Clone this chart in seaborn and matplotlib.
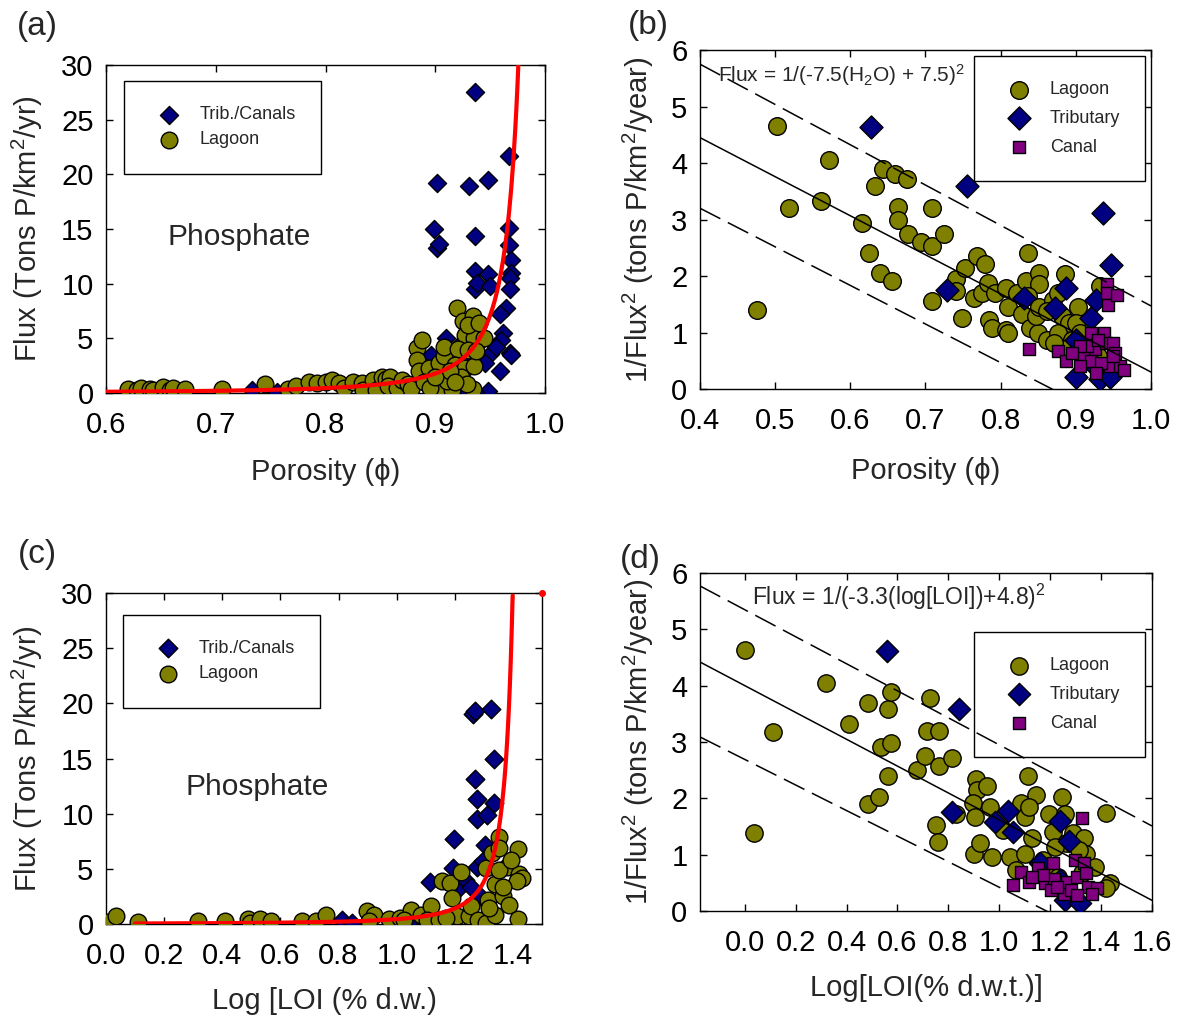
import numpy as np
import matplotlib
matplotlib.use("Agg")
import matplotlib.pyplot as plt
import seaborn as sns

# ---- panel (a): porosity vs flux ----
a_trib_phi = [0.936, 0.902, 0.931, 0.948, 0.967, 0.899, 0.902, 0.903, 0.936, 0.967, 0.967, 0.969,
              0.969, 0.936, 0.948, 0.936, 0.938, 0.950, 0.968, 0.968, 0.964, 0.959, 0.962, 0.960,
              0.968, 0.969, 0.959, 0.948, 0.936, 0.910, 0.899, 0.896, 0.941, 0.950, 0.945, 0.939,
              0.756, 0.733, 0.624, 0.850, 0.860, 0.920, 0.930, 0.955, 0.912, 0.925]
a_trib_flux = [27.5, 19.2, 18.9, 19.5, 21.7, 15.0, 13.3, 13.6, 14.4, 15.1, 13.5, 12.2,
               11.0, 11.2, 10.9, 9.5, 10.1, 9.8, 10.5, 9.5, 7.8, 7.2, 5.5, 4.8,
               3.7, 3.5, 2.0, 0.2, 0.1, 5.0, 0.0, 3.5, 5.2, 3.6, 2.7, 4.5,
               0.1, 0.3, 0.0, 0.3, 0.3, 4.2, 3.0, 4.2, 0.3, 0.5]
a_lag_phi = [0.620, 0.628, 0.632, 0.640, 0.643, 0.652, 0.658, 0.661, 0.672, 0.706, 0.745, 0.766,
             0.773, 0.785, 0.792, 0.800, 0.806, 0.812, 0.817, 0.825, 0.833, 0.834, 0.843, 0.846,
             0.851, 0.855, 0.859, 0.857, 0.865, 0.870, 0.875, 0.878, 0.883, 0.888, 0.883, 0.885,
             0.894, 0.903, 0.908, 0.908, 0.899, 0.906, 0.915, 0.911, 0.890, 0.895, 0.920, 0.925,
             0.934, 0.927, 0.935, 0.944, 0.921, 0.930, 0.918, 0.927, 0.935, 0.923, 0.934, 0.929,
             0.937, 0.913, 0.900, 0.930, 0.940, 0.918]
a_lag_flux = [0.35, 0.25, 0.45, 0.40, 0.25, 0.55, 0.30, 0.45, 0.35, 0.40, 0.85, 0.40,
              0.60, 1.00, 0.90, 1.00, 1.20, 0.90, 0.50, 1.00, 0.90, 0.30, 1.20, 0.30,
              1.50, 1.30, 1.50, 0.60, 0.50, 1.20, 0.80, 0.40, 4.10, 4.80, 3.00, 2.00,
              2.30, 2.70, 3.40, 4.20, 0.60, 0.40, 0.30, 1.10, 1.00, 0.50, 7.80, 6.60,
              7.00, 5.30, 5.00, 5.00, 4.00, 3.90, 2.60, 2.30, 2.50, 1.50, 0.40, 0.80,
              3.80, 2.00, 1.50, 6.20, 6.40, 1.00]

# ---- panel (b): porosity vs 1/flux^2 ----
b_lag_phi = [0.476, 0.502, 0.518, 0.561, 0.571, 0.616, 0.625, 0.633, 0.643, 0.640, 0.655, 0.660,
             0.675, 0.663, 0.663, 0.677, 0.694, 0.708, 0.709, 0.724, 0.708, 0.740, 0.741, 0.753,
             0.748, 0.768, 0.779, 0.765, 0.775, 0.783, 0.785, 0.788, 0.793, 0.807, 0.810, 0.807,
             0.810, 0.822, 0.836, 0.834, 0.851, 0.851, 0.837, 0.829, 0.839, 0.849, 0.861, 0.847,
             0.851, 0.869, 0.886, 0.876, 0.881, 0.891, 0.876, 0.903, 0.900, 0.895, 0.905, 0.883,
             0.861, 0.871, 0.932, 0.930]
b_lag_inv = [1.40, 4.66, 3.20, 3.32, 4.06, 2.94, 2.41, 3.59, 3.90, 2.05, 1.91, 3.80,
             3.71, 3.23, 3.00, 2.75, 2.61, 3.21, 2.53, 2.75, 1.55, 1.94, 1.73, 2.14,
             1.25, 2.35, 2.22, 1.61, 1.70, 1.88, 1.23, 1.08, 1.70, 1.79, 1.46, 1.05,
             0.99, 1.70, 2.40, 1.91, 2.06, 1.85, 1.64, 1.32, 1.08, 0.99, 0.87, 1.29,
             1.46, 1.58, 2.03, 1.70, 1.29, 1.17, 0.99, 1.46, 1.17, 0.87, 0.99, 0.70,
             1.38, 0.82, 1.82, 0.58]
b_trib_phi = [0.627, 0.755, 0.936, 0.947, 0.729, 0.831, 0.887, 0.872, 0.920, 0.927, 0.900, 0.932,
              0.945, 0.900, 0.926]
b_trib_inv = [4.64, 3.60, 3.12, 2.19, 1.76, 1.61, 1.79, 1.43, 1.26, 1.58, 0.22, 0.17,
              0.22, 0.87, 0.40]
b_canal_phi = [0.838, 0.876, 0.887, 0.920, 0.925, 0.941, 0.941, 0.943, 0.955, 0.910, 0.920, 0.937,
               0.940, 0.950, 0.952, 0.946, 0.959, 0.964, 0.934, 0.905, 0.927, 0.915, 0.930, 0.905,
               0.895, 0.950]
b_canal_inv = [0.71, 0.67, 0.49, 0.99, 0.70, 1.85, 1.70, 1.49, 1.67, 0.58, 0.49, 0.99,
               0.82, 0.82, 0.64, 0.40, 0.40, 0.34, 0.46, 0.40, 0.28, 0.76, 0.87, 0.76,
               0.64, 0.58]
b_fit_x = [0.4, 1.0]
b_fit_mid = [4.45, 0.30]
b_fit_upper = [5.75, 1.47]
b_fit_lower = [3.20, -0.90]

# ---- panel (c): log LOI vs flux ----
c_trib_loi = [1.262, 1.268, 1.325, 1.336, 1.268, 1.277, 1.334, 1.275, 1.311, 1.196, 1.303, 1.113,
              1.193, 1.275, 1.235, 1.209, 1.255, 1.288, 1.298, 0.812, 0.845, 0.557, 1.130, 1.040]
c_trib_flux = [19.0, 19.3, 19.5, 15.0, 13.1, 11.3, 11.0, 9.5, 9.9, 7.7, 7.2, 3.8,
               5.1, 5.2, 4.0, 3.1, 3.4, 2.5, 5.7, 0.4, 0.1, 0.0, 0.0, 0.1]
c_lag_loi = [0.000, 0.035, 0.110, 0.315, 0.409, 0.488, 0.494, 0.531, 0.569, 0.674, 0.724, 0.757,
             0.897, 0.921, 0.905, 0.973, 1.012, 1.049, 1.026, 1.085, 1.117, 1.104, 1.144, 1.157,
             1.183, 1.220, 1.190, 1.209, 1.249, 1.255, 1.281, 1.308, 1.314, 1.340, 1.308, 1.328,
             1.353, 1.351, 1.380, 1.367, 1.386, 1.419, 1.422, 1.432, 1.413, 1.419, 1.340, 1.353,
             1.393, 1.367, 1.318, 1.170]
c_lag_flux = [0.15, 0.70, 0.20, 0.25, 0.30, 0.45, 0.10, 0.45, 0.30, 0.30, 0.25, 0.85,
              1.15, 0.85, 0.25, 0.45, 0.55, 1.25, 0.40, 0.85, 1.60, 0.40, 0.40, 3.90,
              3.70, 4.70, 2.40, 0.70, 0.75, 1.60, 0.40, 0.10, 2.20, 3.60, 5.10, 6.40,
              7.90, 6.90, 5.20, 2.50, 1.75, 6.80, 4.50, 4.20, 3.90, 0.50, 0.85, 4.90,
              5.80, 3.40, 1.45, 0.55]
c_stray_x = [1.5]
c_stray_y = [30.0]

# ---- panel (d): log LOI vs 1/flux^2 ----
d_lag_loi = [0.000, 0.036, 0.109, 0.318, 0.411, 0.485, 0.485, 0.529, 0.536, 0.561, 0.573, 0.576,
             0.561, 0.675, 0.710, 0.717, 0.729, 0.762, 0.765, 0.816, 0.751, 0.758, 0.908, 0.911,
             0.952, 0.896, 0.904, 0.962, 0.899, 0.926, 0.972, 0.831, 1.042, 1.064, 1.086, 1.100,
             1.112, 1.144, 1.118, 1.130, 1.100, 1.173, 1.195, 1.210, 1.246, 1.258, 1.261, 1.290,
             1.334, 1.341, 1.378, 1.421, 1.436, 1.421, 1.188, 1.230, 1.312, 1.327, 1.013, 1.218]
d_lag_inv = [4.64, 1.39, 3.18, 4.05, 3.32, 3.69, 1.90, 2.03, 2.91, 3.58, 3.89, 2.98,
             2.40, 2.51, 2.76, 3.19, 3.78, 2.58, 3.19, 2.72, 1.52, 1.23, 2.34, 2.15,
             2.22, 1.91, 1.67, 1.85, 1.02, 1.20, 0.96, 1.73, 0.96, 0.73, 1.91, 1.67,
             2.40, 2.06, 1.85, 1.29, 1.02, 0.90, 1.73, 1.41, 2.02, 1.73, 1.20, 1.38,
             1.29, 1.02, 0.79, 1.74, 0.49, 0.40, 0.73, 0.61, 1.08, 0.67, 1.44, 1.14]
d_trib_loi = [0.557, 0.843, 0.816, 0.984, 1.035, 1.054, 1.239, 1.273, 1.258, 1.319, 1.159, 1.239]
d_trib_inv = [4.61, 3.59, 1.75, 1.58, 1.78, 1.41, 1.60, 1.25, 0.20, 0.15, 0.85, 0.55]
d_canal_loi = [1.327, 1.054, 1.086, 1.115, 1.152, 1.181, 1.210, 1.214, 1.203, 1.268, 1.297, 1.305,
               1.334, 1.349, 1.385, 1.254, 1.283, 1.305, 1.225, 1.173, 1.341, 1.363, 1.130]
d_canal_inv = [1.65, 0.47, 0.70, 0.52, 0.76, 0.49, 0.85, 0.56, 0.37, 0.52, 0.90, 0.61,
               0.85, 0.43, 0.40, 0.31, 0.37, 0.28, 0.43, 0.64, 0.67, 0.31, 0.61]
d_fit_x = [-0.176, 1.6]
d_fit_mid = [4.42, 0.19]
d_fit_upper = [5.77, 1.51]
d_fit_lower = [3.09, -0.94]

# fitted curves: Flux = 1/(slope*x + intercept)^2
a_slope, a_intercept = -7.5, 7.5
c_slope, c_intercept = -3.3, 4.8

OLIVE = "#808000"
NAVY = "#000080"
PURPLE = "#800080"

sns.set_style("ticks")
plt.rcParams["font.family"] = ["Liberation Sans", "DejaVu Sans"]
plt.rcParams["mathtext.fontset"] = "custom"
plt.rcParams["mathtext.rm"] = "Liberation Sans"
plt.rcParams["axes.linewidth"] = 1.0

fig = plt.figure(figsize=(11.78, 10.17), dpi=100)
ax_a = fig.add_axes([0.090, 0.6136, 0.3727, 0.3225])
ax_b = fig.add_axes([0.5942, 0.6175, 0.3829, 0.3333])
ax_c = fig.add_axes([0.090, 0.0914, 0.3701, 0.3255])
ax_d = fig.add_axes([0.5942, 0.1042, 0.3837, 0.3324])


def style_axis(ax, xlim, ylim, xticks, yticks, xfmt, yfmt):
    ax.set_xlim(*xlim)
    ax.set_ylim(*ylim)
    ax.set_xticks(xticks)
    ax.set_xticklabels([xfmt.format(t) for t in xticks])
    ax.set_yticks(yticks)
    ax.set_yticklabels([yfmt.format(t) for t in yticks])
    ax.tick_params(direction="in", top=True, right=True, length=5, width=1,
                   labelsize=21, colors="black")
    ax.tick_params(axis="x", pad=13)
    ax.tick_params(axis="y", pad=9)
    for sp in ax.spines.values():
        sp.set_visible(True)
        sp.set_color("black")


def add_legend(ax, anchor, fs=13, spacing=0.45, pad=1.4):
    leg = ax.legend(loc="upper left", bbox_to_anchor=anchor, borderaxespad=0,
                    frameon=True, fancybox=False, framealpha=1, edgecolor="black",
                    fontsize=fs, borderpad=pad, handlelength=2.2, handletextpad=0.6,
                    labelspacing=spacing)
    leg.get_frame().set_linewidth(1.0)
    return leg


# (a)
sns.scatterplot(x=a_trib_phi, y=a_trib_flux, ax=ax_a, marker="D", color=NAVY, edgecolor="black",
                linewidth=1, s=85, label="Trib./Canals", zorder=3)
sns.scatterplot(x=a_lag_phi, y=a_lag_flux, ax=ax_a, marker="o", color=OLIVE, edgecolor="black",
                linewidth=1, s=144, label="Lagoon", zorder=4)
xa = np.linspace(0.6, 0.9757, 400)
ax_a.plot(xa, 1.0 / (a_slope * xa + a_intercept) ** 2, color="red", lw=3, zorder=6)
style_axis(ax_a, (0.6, 1.0), (0, 30), [0.6, 0.7, 0.8, 0.9, 1.0], range(0, 31, 5), "{:.1f}", "{:d}")
ax_a.set_xlabel("Porosity (\u03d5)", fontsize=21)
ax_a.set_ylabel("Flux (Tons P/km$\\mathregular{^2}$/yr)", fontsize=21)
ax_a.xaxis.set_label_coords(0.5, -0.197)
ax_a.yaxis.set_label_coords(-0.138, 0.5)
ax_a.text(0.656, 14.3, "Phosphate", fontsize=21.5, va="center", ha="left")
add_legend(ax_a, (0.041, 0.951))

# (b)
sns.scatterplot(x=b_lag_phi, y=b_lag_inv, ax=ax_b, marker="o", color=OLIVE, edgecolor="black",
                linewidth=1, s=161, label="Lagoon", zorder=3)
sns.scatterplot(x=b_trib_phi, y=b_trib_inv, ax=ax_b, marker="D", color=NAVY, edgecolor="black",
                linewidth=1, s=138, label="Tributary", zorder=4)
sns.scatterplot(x=b_canal_phi, y=b_canal_inv, ax=ax_b, marker="s", color=PURPLE, edgecolor="black",
                linewidth=1, s=71, label="Canal", zorder=5)
ax_b.plot(b_fit_x, b_fit_mid, color="black", lw=1.1, zorder=6)
ax_b.plot(b_fit_x, b_fit_upper, color="black", lw=1.1, dashes=(15, 5.5), zorder=6)
ax_b.plot(b_fit_x, b_fit_lower, color="black", lw=1.1, dashes=(15, 5.5), zorder=6)
style_axis(ax_b, (0.4, 1.0), (0, 6), [0.4, 0.5, 0.6, 0.7, 0.8, 0.9, 1.0], range(0, 7), "{:.1f}", "{:d}")
ax_b.set_xlabel("Porosity (\u03d5)", fontsize=21)
ax_b.set_ylabel("1/Flux$\\mathregular{^2}$ (tons P/km$\\mathregular{^2}$/year)", fontsize=21)
ax_b.xaxis.set_label_coords(0.5, -0.200)
ax_b.yaxis.set_label_coords(-0.098, 0.5)
ax_b.text(0.424, 5.56, "Flux = 1/(-7.5(H$\\mathregular{_2}$O) + 7.5)$\\mathregular{^2}$",
          fontsize=15, va="center", ha="left", zorder=7)
add_legend(ax_b, (0.6075, 0.982), spacing=0.65, pad=1.4)

# (c)
sns.scatterplot(x=c_trib_loi, y=c_trib_flux, ax=ax_c, marker="D", color=NAVY, edgecolor="black",
                linewidth=1, s=90, label="Trib./Canals", zorder=3)
sns.scatterplot(x=c_lag_loi, y=c_lag_flux, ax=ax_c, marker="o", color=OLIVE, edgecolor="black",
                linewidth=1, s=144, label="Lagoon", zorder=4)
xc = np.linspace(0.1, 1.399, 400)
ax_c.plot(xc, 1.0 / (c_slope * xc + c_intercept) ** 2, color="red", lw=3, zorder=6)
ax_c.plot(c_stray_x, c_stray_y, "o", color="red", ms=4, clip_on=False, zorder=6)
style_axis(ax_c, (0.0, 1.5), (0, 30), [0.0, 0.2, 0.4, 0.6, 0.8, 1.0, 1.2, 1.4], range(0, 31, 5),
           "{:.1f}", "{:d}")
ax_c.set_xlabel("Log [LOI (% d.w.)", fontsize=21)
ax_c.set_ylabel("Flux (Tons P/km$\\mathregular{^2}$/yr)", fontsize=21)
ax_c.xaxis.set_label_coords(0.5, -0.190)
ax_c.yaxis.set_label_coords(-0.139, 0.5)
ax_c.text(0.275, 12.4, "Phosphate", fontsize=21.5, va="center", ha="left")
add_legend(ax_c, (0.039, 0.934))

# (d)
sns.scatterplot(x=d_lag_loi, y=d_lag_inv, ax=ax_d, marker="o", color=OLIVE, edgecolor="black",
                linewidth=1, s=156, label="Lagoon", zorder=3)
sns.scatterplot(x=d_trib_loi, y=d_trib_inv, ax=ax_d, marker="D", color=NAVY, edgecolor="black",
                linewidth=1, s=129, label="Tributary", zorder=4)
sns.scatterplot(x=d_canal_loi, y=d_canal_inv, ax=ax_d, marker="s", color=PURPLE, edgecolor="black",
                linewidth=1, s=79, label="Canal", zorder=5)
ax_d.plot(d_fit_x, d_fit_mid, color="black", lw=1.1, zorder=6)
ax_d.plot(d_fit_x, d_fit_upper, color="black", lw=1.1, dashes=(15, 5.5), zorder=6)
ax_d.plot(d_fit_x, d_fit_lower, color="black", lw=1.1, dashes=(15, 5.5), zorder=6)
style_axis(ax_d, (-0.176, 1.6), (0, 6), [0.0, 0.2, 0.4, 0.6, 0.8, 1.0, 1.2, 1.4, 1.6], range(0, 7),
           "{:.1f}", "{:d}")
ax_d.set_xlabel("Log[LOI(% d.w.t.)]", fontsize=21)
ax_d.set_ylabel("1/Flux$\\mathregular{^2}$ (tons P/km$\\mathregular{^2}$/year)", fontsize=21)
ax_d.xaxis.set_label_coords(0.5, -0.186)
ax_d.yaxis.set_label_coords(-0.098, 0.5)
ax_d.text(0.03, 5.57, "Flux = 1/(-3.3(log[LOI])+4.8)$\\mathregular{^2}$",
          fontsize=16.5, va="center", ha="left", zorder=7)
add_legend(ax_d, (0.606, 0.825), spacing=0.65, pad=1.4)

# panel letters
fig.text(0.0144, 0.9735, "(a)", fontsize=24, va="center", ha="left")
fig.text(0.533, 0.9745, "(b)", fontsize=24, va="center", ha="left")
fig.text(0.0153, 0.4543, "(c)", fontsize=24, va="center", ha="left")
fig.text(0.526, 0.4503, "(d)", fontsize=24, va="center", ha="left")

fig.savefig("out.png", dpi=100)
